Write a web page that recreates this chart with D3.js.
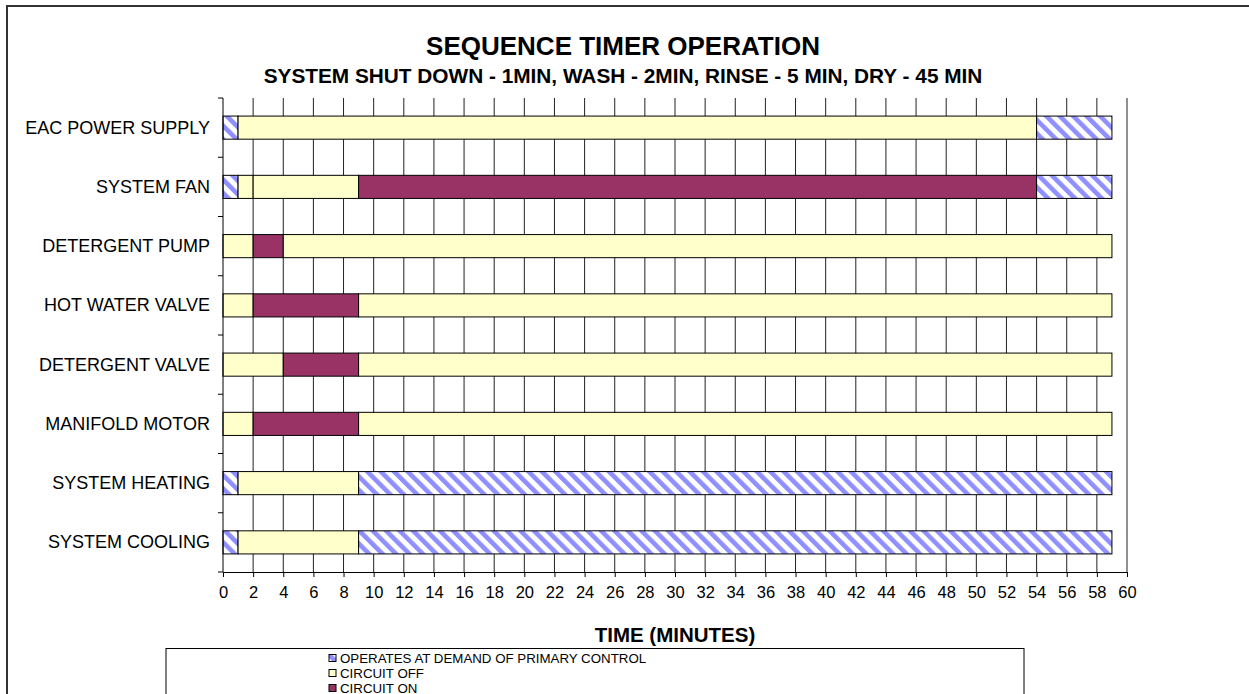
<html>
  <head>
    <style>
      body {
        margin: 0;
        background: #fff;
        font-family: "Liberation Sans", Arial, Helvetica, sans-serif;
      }
      svg {
        display: block;
      }
      .cat-label {
        font-size: 18px;
        text-anchor: end;
        dominant-baseline: central;
      }
      .grid line {
        stroke: #222;
        stroke-width: 1;
      }
      .seg {
        stroke: #000;
        stroke-width: 1;
      }
    </style>
  </head>
  <body>
    <script src="https://d3js.org/d3.v7.min.js"></script>
    <script>
      // rows, top to bottom
      const categories = [
        "EAC POWER SUPPLY",
        "SYSTEM FAN",
        "DETERGENT PUMP",
        "HOT WATER VALVE",
        "DETERGENT VALVE",
        "MANIFOLD MOTOR",
        "SYSTEM HEATING",
        "SYSTEM COOLING",
      ];
      // minutes in each stacked piece of a row
      const segLengths = [
        [1, 53, 5],
        [1, 1, 7, 45, 5],
        [2, 2, 55],
        [2, 7, 50],
        [4, 5, 50],
        [2, 7, 50],
        [1, 8, 50],
        [1, 8, 50],
      ];
      // state of each piece: 0 = demand, 1 = off, 2 = on
      const segStates = [
        [0, 1, 0],
        [0, 1, 1, 2, 0],
        [1, 2, 1],
        [1, 2, 1],
        [1, 2, 1],
        [1, 2, 1],
        [0, 1, 0],
        [0, 1, 0],
      ];
      const legendLabels = [
        "OPERATES AT DEMAND OF PRIMARY CONTROL",
        "CIRCUIT OFF",
        "CIRCUIT ON",
      ];
      const xTickValues = [
        0, 2, 4, 6, 8, 10, 12, 14, 16, 18, 20, 22, 24, 26, 28, 30, 32, 34, 36,
        38, 40, 42, 44, 46, 48, 50, 52, 54, 56, 58, 60,
      ];

      const W = 1249,
        H = 694;
      const plotLeft = 223,
        plotRight = 1127,
        plotTop = 98,
        plotBottom = 572;

      const svg = d3
        .select("body")
        .append("svg")
        .attr("width", W)
        .attr("height", H);

      const defs = svg.append("defs");
      const pat = defs
        .append("pattern")
        .attr("id", "hatch")
        .attr("patternUnits", "userSpaceOnUse")
        .attr("width", 9.5)
        .attr("height", 9.5)
        .attr("patternTransform", "rotate(-45)");
      pat.append("rect").attr("width", 9.5).attr("height", 9.5).attr("fill", "#fff");
      pat
        .append("rect")
        .attr("width", 4.6)
        .attr("height", 9.5)
        .attr("fill", "#8f8fff");

      const stateFill = ["url(#hatch)", "#FFFFCC", "#993366"];

      // outer chart border
      svg
        .append("rect")
        .attr("x", 7)
        .attr("y", 6)
        .attr("width", W + 20)
        .attr("height", H + 20)
        .attr("fill", "none")
        .attr("stroke", "#333")
        .attr("stroke-width", 2);

      svg
        .append("text")
        .attr("x", 623)
        .attr("y", 55)
        .attr("text-anchor", "middle")
        .attr("font-weight", "bold")
        .attr("font-size", 26)
        .text("SEQUENCE TIMER OPERATION");

      svg
        .append("text")
        .attr("x", 623)
        .attr("y", 83)
        .attr("text-anchor", "middle")
        .attr("font-weight", "bold")
        .attr("font-size", 20.8)
        .text("SYSTEM SHUT DOWN - 1MIN, WASH - 2MIN, RINSE - 5 MIN, DRY - 45 MIN");

      const x = d3.scaleLinear().domain([0, 60]).range([plotLeft, plotRight]);
      const y = d3
        .scaleBand()
        .domain(categories)
        .range([plotTop, plotBottom])
        .paddingInner(0.61)
        .paddingOuter(0.305);
      const step = y.step();

      // vertical gridlines
      svg
        .append("g")
        .attr("class", "grid")
        .selectAll("line")
        .data(xTickValues.slice(1))
        .join("line")
        .attr("x1", (d) => x(d))
        .attr("x2", (d) => x(d))
        .attr("y1", plotTop)
        .attr("y2", plotBottom);

      // bars
      const rows = svg
        .append("g")
        .selectAll("g")
        .data(categories)
        .join("g");

      rows.each(function (cat, i) {
        let start = 0;
        const pieces = segLengths[i].map((len, j) => {
          const p = { start: start, len: len, state: segStates[i][j] };
          start += len;
          return p;
        });
        d3.select(this)
          .selectAll("rect")
          .data(pieces)
          .join("rect")
          .attr("class", "seg")
          .attr("x", (d) => x(d.start))
          .attr("y", y(cat))
          .attr("width", (d) => x(d.start + d.len) - x(d.start))
          .attr("height", y.bandwidth())
          .attr("fill", (d) => stateFill[d.state]);
      });

      // x axis
      const xAxis = svg
        .append("g")
        .attr("transform", `translate(0,${plotBottom})`)
        .call(
          d3
            .axisBottom(x)
            .tickValues(xTickValues)
            .tickSize(5)
            .tickSizeOuter(0)
            .tickPadding(9)
        );
      xAxis.select(".domain").attr("stroke", "#000");
      xAxis.selectAll(".tick line").attr("stroke", "#000");
      xAxis
        .selectAll(".tick text")
        .attr("font-size", 16.5)
        .attr("font-family", "Liberation Sans, Arial, sans-serif")
        .attr("fill", "#000");

      // y axis line and ticks at band edges
      const yAxis = svg.append("g");
      yAxis
        .append("line")
        .attr("x1", plotLeft)
        .attr("x2", plotLeft)
        .attr("y1", plotTop)
        .attr("y2", plotBottom)
        .attr("stroke", "#000");
      yAxis
        .selectAll(".ytick")
        .data(d3.range(categories.length + 1))
        .join("line")
        .attr("class", "ytick")
        .attr("x1", plotLeft - 5)
        .attr("x2", plotLeft)
        .attr("y1", (k) => plotTop + k * step)
        .attr("y2", (k) => plotTop + k * step)
        .attr("stroke", "#000");
      yAxis
        .selectAll(".cat-label")
        .data(categories)
        .join("text")
        .attr("class", "cat-label")
        .attr("x", 210)
        .attr("y", (d) => y(d) + y.bandwidth() / 2)
        .text((d) => d);

      svg
        .append("text")
        .attr("x", (plotLeft + plotRight) / 2)
        .attr("y", 642)
        .attr("text-anchor", "middle")
        .attr("font-weight", "bold")
        .attr("font-size", 20.5)
        .text("TIME (MINUTES)");

      // legend (its lower part is cut off by the picture edge, as in the original)
      const legend = svg.append("g");
      legend
        .append("rect")
        .attr("x", 166)
        .attr("y", 648.5)
        .attr("width", 858)
        .attr("height", 100)
        .attr("fill", "#fff")
        .attr("stroke", "#000");
      const items = legend
        .selectAll(".item")
        .data(legendLabels)
        .join("g")
        .attr("class", "item")
        .attr("transform", (d, i) => `translate(329,${658 + i * 15})`);
      items
        .append("rect")
        .attr("x", 0)
        .attr("y", -3.5)
        .attr("width", 7)
        .attr("height", 7)
        .attr("stroke", "#000")
        .attr("fill", (d, i) => stateFill[i]);
      items
        .append("text")
        .attr("x", 11)
        .attr("y", 0)
        .attr("dominant-baseline", "central")
        .attr("font-size", 13.3)
        .text((d) => d);
    </script>
  </body>
</html>
